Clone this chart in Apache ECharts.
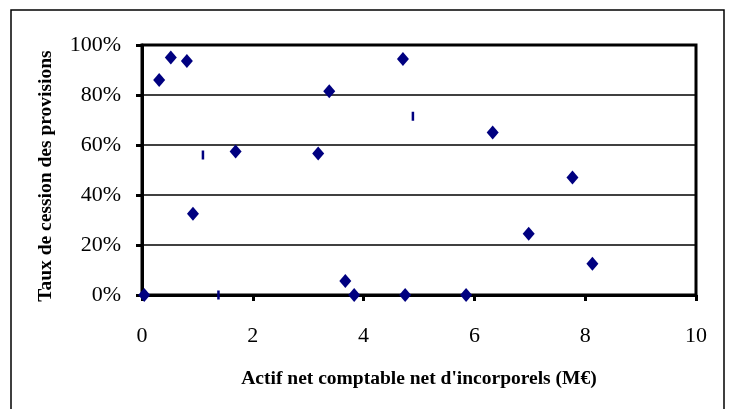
<!DOCTYPE html>
<html><head><meta charset="utf-8">
<script src="https://cdn.jsdelivr.net/npm/echarts@6/dist/echarts.min.js"></script>
<style>html,body{margin:0;padding:0;background:#fff}#c{width:731px;height:409px}</style>
</head><body><div id="c"></div>
<script>
const xTickLabels = ['0','2','4','6','8','10'];
const yTickLabels = ['0%','20%','40%','60%','80%','100%'];
// Diamond-marked points: [actif net (M€), taux de cession (%)]
const diamondX = [0.04, 0.31, 0.52, 0.81, 0.92, 1.69, 3.18, 3.38, 3.67, 3.83, 4.71, 4.75, 5.85, 6.33, 6.98, 7.77, 8.13];
const diamondY = [0, 86, 95, 93.6, 32.5, 57.4, 56.6, 81.5, 5.6, 0, 94.4, 0, 0, 65, 24.5, 47, 12.5];
// Dash-marked points
const dashX = [1.10, 1.38, 4.89];
const dashY = [56, 0, 71.5];

const FONT = '"Liberation Serif", "Times New Roman", serif';
const chart = echarts.init(document.getElementById('c'));
chart.setOption({
  animation: false,
  backgroundColor: '#fff',
  graphic: [{
    type: 'rect', shape: {x: 11, y: 10, width: 713, height: 420},
    style: {fill: 'none', stroke: '#000', lineWidth: 1.5}, silent: true, z: 0
  }],
  grid: {left: 142, top: 45, width: 554, height: 250, show: true, borderColor: '#000', borderWidth: 3, backgroundColor: 'transparent'},
  xAxis: {
    type: 'value', min: 0, max: 10, interval: 2,
    name: "Actif net comptable net d'incorporels (M€)", nameLocation: 'middle', nameGap: 74,
    nameTextStyle: {fontFamily: FONT, fontWeight: 'bold', fontSize: 19.5, color: '#000'},
    axisLine: {show: true, lineStyle: {color: '#000', width: 3}},
    axisTick: {show: true, length: 6, lineStyle: {color: '#000', width: 3}},
    axisLabel: {fontFamily: FONT, fontSize: 22, color: '#000', margin: 30, formatter: (v) => xTickLabels[Math.round(v/2)]},
    splitLine: {show: false}
  },
  yAxis: {
    type: 'value', min: 0, max: 100, interval: 20,
    name: 'Taux de cession des provisions', nameLocation: 'middle', nameGap: 86, nameRotate: 90,
    nameTextStyle: {fontFamily: FONT, fontWeight: 'bold', fontSize: 19.5, color: '#000', padding: [0, 12, 0, 0]},
    axisLine: {show: true, lineStyle: {color: '#000', width: 3}},
    axisTick: {show: true, length: 6, lineStyle: {color: '#000', width: 3}},
    axisLabel: {fontFamily: FONT, fontSize: 22, color: '#000', margin: 21, formatter: (v) => yTickLabels[Math.round(v/20)]},
    splitLine: {show: true, lineStyle: {color: '#000', width: 1.5}}
  },
  series: [
    {type: 'scatter', data: diamondX.map((x, i) => [x, diamondY[i]]), symbol: 'diamond', symbolSize: [12, 14], itemStyle: {color: '#000080', opacity: 1}, z: 5},
    {type: 'scatter', data: dashX.map((x, i) => [x, dashY[i]]), symbol: 'rect', symbolSize: [2.5, 9], itemStyle: {color: '#000080', opacity: 1}, z: 5}
  ]
});
</script></body></html>
